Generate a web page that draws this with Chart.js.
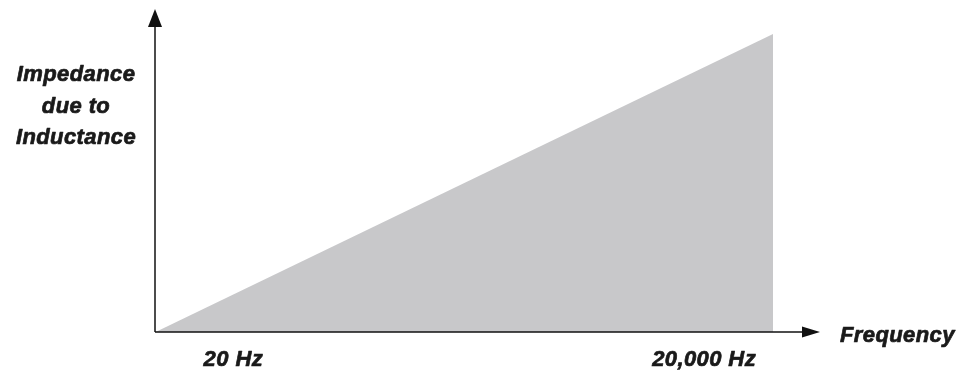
<!DOCTYPE html>
<html>
<head>
<meta charset="utf-8">
<script src="https://cdn.jsdelivr.net/npm/chart.js@4/dist/chart.umd.min.js"></script>
<style>
html,body{margin:0;padding:0;background:#fff;}
#wrap{width:964px;height:374px;position:relative;}
</style>
</head>
<body>
<div id="wrap"><canvas id="c" width="964" height="374"></canvas></div>
<script>
// Data
const frequencies = [20, 20000];          // Hz
const impedance = [0, 100];               // relative impedance
const xTickLabels = ["20 Hz", "20,000 Hz"];
const yTitleLines = ["Impedance", "due to", "Inductance"];
const xTitle = "Frequency";

const FONT = 'italic bold 22px "Liberation Sans", Arial, sans-serif';

function boldText(ctx, t, x, y) {
  ctx.fillText(t, x, y);
  ctx.strokeText(t, x, y);
}

const axesPlugin = {
  id: 'axesPlugin',
  afterDraw(chart) {
    const ctx = chart.ctx;
    const a = chart.chartArea;
    const xs = chart.scales.x;
    ctx.save();
    ctx.strokeStyle = '#111';
    ctx.fillStyle = '#111';
    ctx.lineWidth = 1.5;
    // y axis
    ctx.beginPath();
    ctx.moveTo(a.left, a.bottom);
    ctx.lineTo(a.left, a.top + 12);
    ctx.stroke();
    ctx.beginPath();
    ctx.moveTo(a.left, a.top);
    ctx.lineTo(a.left - 7, a.top + 18);
    ctx.lineTo(a.left + 7, a.top + 18);
    ctx.closePath();
    ctx.fill();
    // x axis
    ctx.beginPath();
    ctx.moveTo(a.left, a.bottom);
    ctx.lineTo(a.right - 12, a.bottom);
    ctx.stroke();
    ctx.beginPath();
    ctx.moveTo(a.right, a.bottom);
    ctx.lineTo(a.right - 18, a.bottom - 5.5);
    ctx.lineTo(a.right - 18, a.bottom + 5.5);
    ctx.closePath();
    ctx.fill();

    // labels
    ctx.fillStyle = '#1a1a1a';
    ctx.strokeStyle = '#1a1a1a';
    ctx.lineWidth = 0.7;
    ctx.lineJoin = 'round';
    ctx.font = FONT;
    ctx.letterSpacing = '0.4px';
    ctx.textBaseline = 'alphabetic';
    ctx.textAlign = 'center';
    yTitleLines.forEach((t, i) => boldText(ctx, t, 76, 81 + i * 31.5));
    ctx.textAlign = 'left';
    boldText(ctx, xTitle, a.right + 20, a.bottom + 10);
    boldText(ctx, xTickLabels[0], xs.getPixelForValue(frequencies[0]) + 48, a.bottom + 34);
    ctx.textAlign = 'right';
    boldText(ctx, xTickLabels[1], xs.getPixelForValue(frequencies[1]) - 17, a.bottom + 34);
    ctx.restore();
  }
};

new Chart(document.getElementById('c'), {
  type: 'line',
  data: {
    datasets: [{
      data: frequencies.map((f, i) => ({x: f, y: impedance[i]})),
      fill: 'origin',
      backgroundColor: '#c8c8ca',
      borderWidth: 0,
      pointRadius: 0,
      tension: 0
    }]
  },
  options: {
    responsive: false,
    animation: false,
    devicePixelRatio: 1,
    layout: { padding: { left: 155, right: 144, top: 9, bottom: 42 } },
    plugins: { legend: { display: false }, tooltip: { enabled: false } },
    scales: {
      x: { type: 'linear', display: false, min: 0, max: 21520 },
      y: { type: 'linear', display: false, min: 0, max: 108.4 }
    }
  },
  plugins: [axesPlugin]
});
</script>
</body>
</html>
